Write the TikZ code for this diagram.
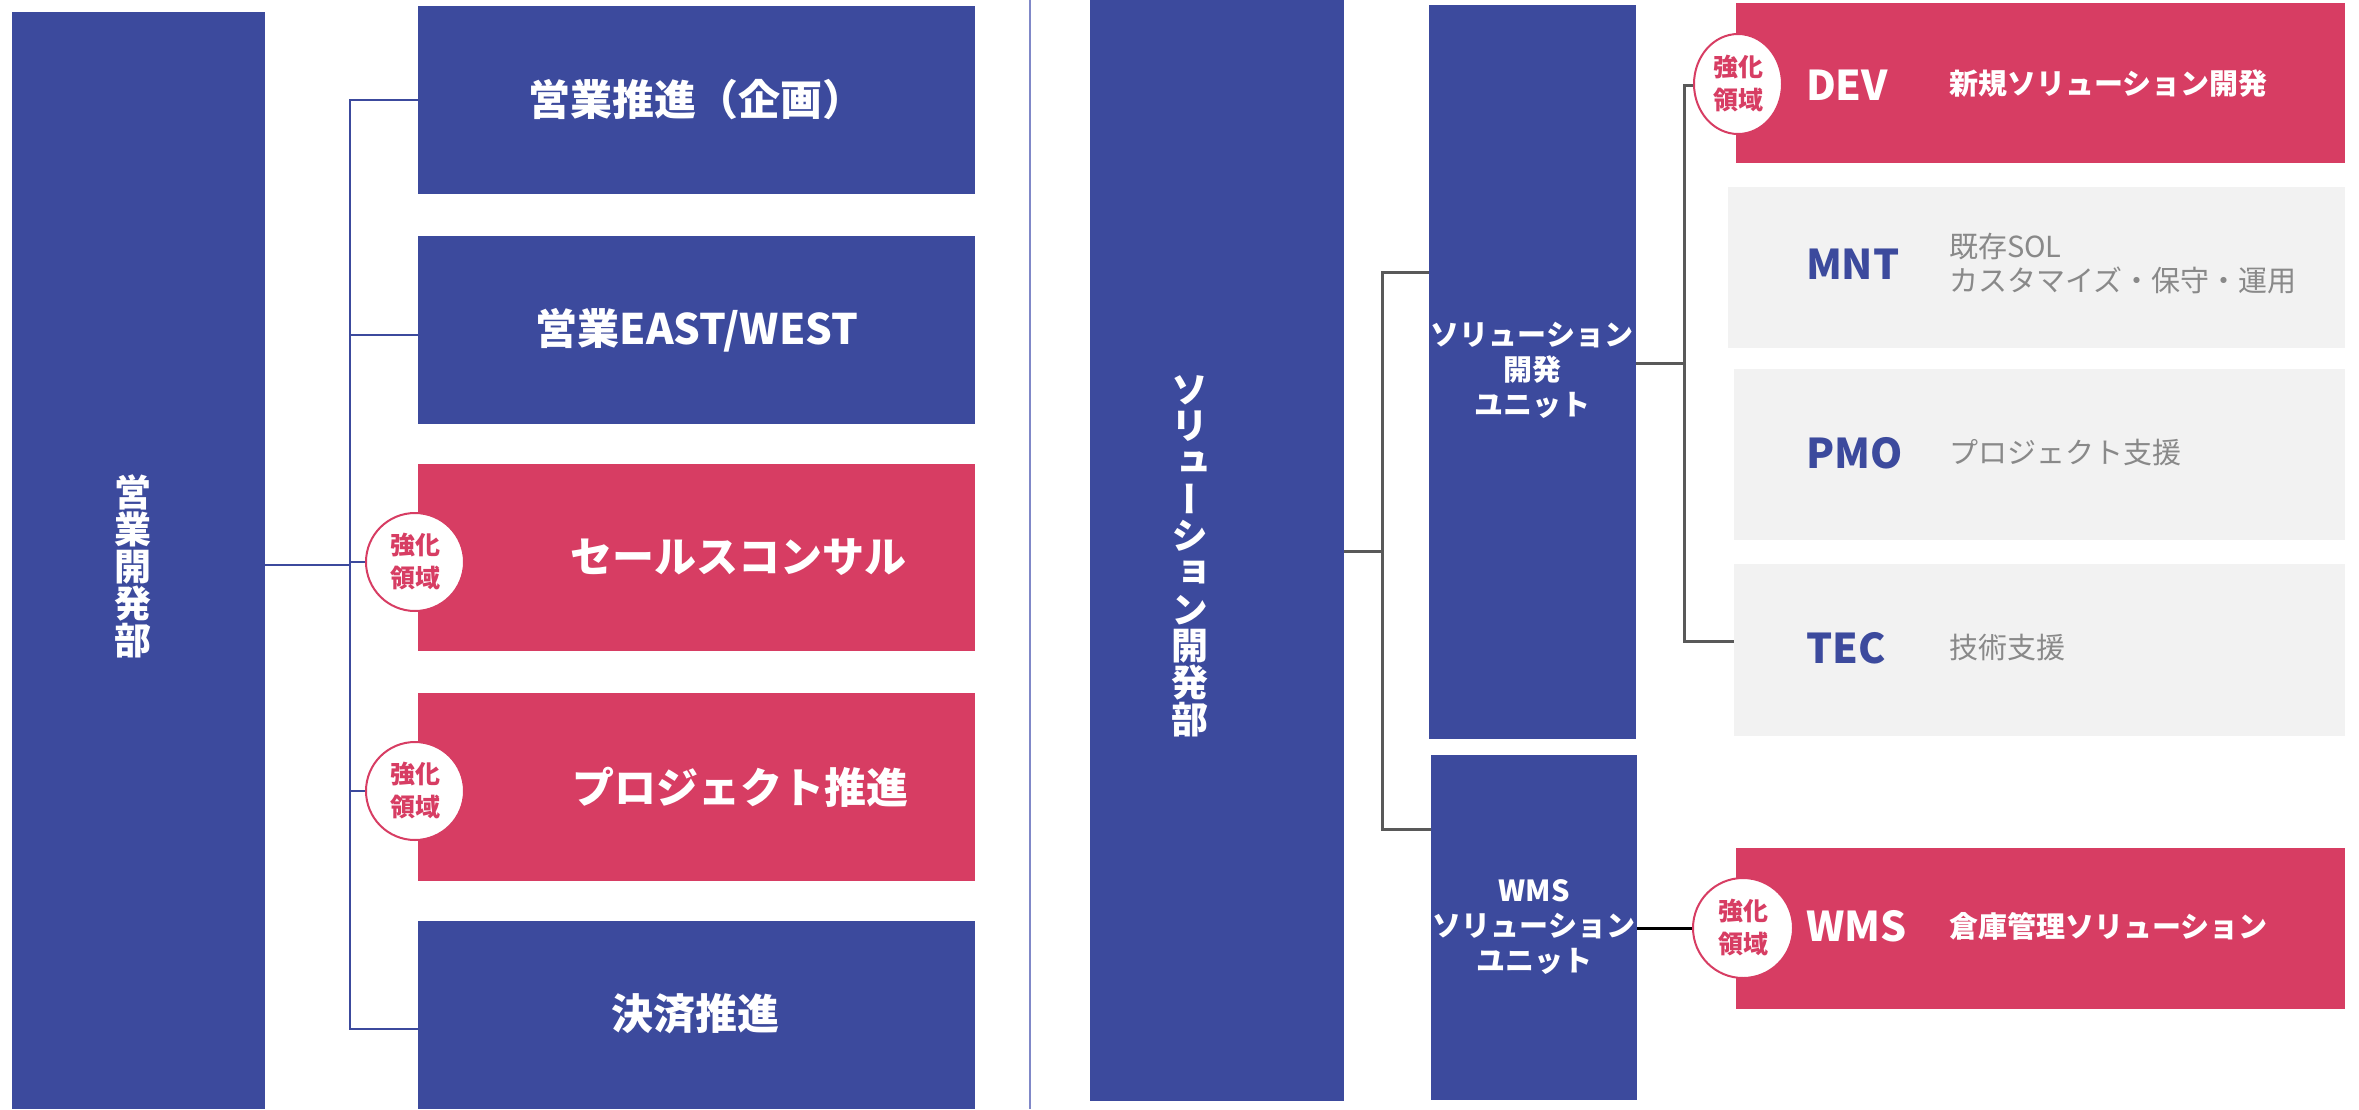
\documentclass[tikz,border=0pt]{standalone}
\usepackage{fontspec}
\usetikzlibrary{shapes.geometric}
\setmainfont{Noto Sans CJK JP}
\newfontfamily\vfont[RawFeature={+vert}]{Noto Sans CJK JP}
\definecolor{cblue}{RGB}{60,74,157}
\definecolor{cred}{RGB}{215,61,99}
\definecolor{cgray}{RGB}{242,242,242}
\definecolor{ctext}{RGB}{137,137,137}
\definecolor{cline}{RGB}{89,89,89}
\definecolor{cdiv}{RGB}{128,136,200}
\begin{document}
\begin{tikzpicture}[x=1pt,y=-1pt,
  every node/.style={inner sep=0pt, outer sep=0pt},
  bluebox/.style={rectangle, fill=cblue, anchor=north west},
  redbox/.style={rectangle, fill=cred, anchor=north west},
  graybox/.style={rectangle, fill=cgray, anchor=north west},
  badge/.style={circle, fill=white, draw=cred, line width=2pt, minimum size=98pt, text=cred, font=\fontsize{25}{33}\selectfont\bfseries, align=center},
  ttl/.style={text=white, font=\fontsize{42}{50}\selectfont\bfseries},
  vtxt/.style={text=white, align=center},
  unit/.style={text=white, align=center, font=\fontsize{29}{35}\selectfont\bfseries},
  code/.style={anchor=west, font=\fontsize{41}{48}\selectfont\bfseries},
  desc/.style={anchor=west, align=left, font=\fontsize{29}{34}\selectfont},
  lconn/.style={draw=cblue, line width=2.5pt},
  rconn/.style={draw=cline, line width=3pt},
]
\useasboundingbox (0,0) rectangle (2359,1109);
% ---------- left department ----------
\node[bluebox, minimum width=253pt, minimum height=1097pt] (eigyo) at (12,12) {};
\node[bluebox, minimum width=557pt, minimum height=188pt] (b1) at (418,6) {};
\node[bluebox, minimum width=557pt, minimum height=188pt] (b2) at (418,236) {};
\node[redbox,  minimum width=557pt, minimum height=187pt] (b3) at (418,464) {};
\node[redbox,  minimum width=557pt, minimum height=188pt] (b4) at (418,693) {};
\node[bluebox, minimum width=557pt, minimum height=188pt] (b5) at (418,921) {};

\node[vtxt, font=\fontsize{37}{37}\selectfont\vfont\bfseries] (t0) at (133,566) {営\\業\\開\\発\\部};
\node[ttl] (t1) at (696,100) {営業推進（企画）};
\node[ttl] (t2) at (697,330) {営業EAST/WEST};
\node[ttl] (t3) at (738,557) {セールスコンサル};
\node[ttl] (t4) at (740,787) {プロジェクト推進};
\node[ttl] (t5) at (695,1014) {決済推進};

\coordinate (jL) at (350,565);
\coordinate (j1) at (350,100);
\coordinate (j2) at (350,335);
\coordinate (j3) at (350,562);
\coordinate (j4) at (350,791);
\coordinate (j5) at (350,1029);
\draw[lconn] (eigyo.east |- jL) -- (jL);
\draw[lconn] (j1 -| b1.west) -- (j1) -- (j5) -- (j5 -| b5.west);
\draw[lconn] (j2) -- (j2 -| b2.west);
\draw[lconn] (j3) -- (j3 -| b3.west);
\draw[lconn] (j4) -- (j4 -| b4.west);

\node[badge] (bg3) at (415,562) {強化\\領域};
\node[badge] (bg4) at (415,791) {強化\\領域};

% ---------- divider ----------
\coordinate (dtop) at (1030,0);
\coordinate (dbot) at (1030,1109);
\draw[cdiv, line width=2pt] (dtop) -- (dbot);

% ---------- right department ----------
\node[bluebox, minimum width=254pt, minimum height=1101pt] (soldev) at (1090,0) {};
\node[bluebox, minimum width=207pt, minimum height=734pt] (u1) at (1429,5) {};
\node[bluebox, minimum width=206pt, minimum height=345pt] (u2) at (1431,755) {};
\node[redbox,  minimum width=609pt, minimum height=160pt] (dev) at (1736,3) {};
\node[graybox, minimum width=617pt, minimum height=161pt] (mnt) at (1728,187) {};
\node[graybox, minimum width=611pt, minimum height=171pt] (pmo) at (1734,369) {};
\node[graybox, minimum width=611pt, minimum height=172pt] (tec) at (1734,564) {};
\node[redbox,  minimum width=609pt, minimum height=161pt] (wms) at (1736,848) {};

\node[vtxt, font=\fontsize{37}{36.7}\selectfont\vfont\bfseries] (ts) at (1190,556) {ソ\\リ\\ュ\\ー\\シ\\ョ\\ン\\開\\発\\部};
\node[unit] (tu1) at (1532,370) {ソリューション\\開発\\ユニット};
\node[unit] (tu2) at (1534,927) {WMS\\ソリューション\\ユニット};

\coordinate (jS) at (1382,551);
\coordinate (jU1) at (1382,272);
\coordinate (jU2) at (1382,829);
\draw[rconn] (soldev.east |- jS) -- (jS);
\draw[rconn] (jU1 -| u1.west) -- (jU1) -- (jU2) -- (jU2 -| u2.west);

\coordinate (jD) at (1684,363);
\coordinate (jDev) at (1684,85);
\coordinate (jTec) at (1684,641);
\draw[rconn] (u1.east |- jD) -- (jD);
\draw[rconn] (jDev -| dev.west) -- (jDev) -- (jTec) -- (jTec -| tec.west);

\coordinate (jW) at (1700,928);
\draw[black, line width=3pt] (u2.east |- jW) -- (jW);

\node[badge, ellipse, minimum width=88pt, minimum height=100pt] (bgdev) at (1738,84) {強化\\領域};
\node[badge, minimum size=100pt] (bgwms) at (1743,928) {強化\\領域};

\node[code, text=white] (cdev) at (1806,85) {DEV};
\node[desc, text=white, font=\fontsize{29}{34}\selectfont\bfseries] (ddev) at (1949,84) {新規ソリューション開発};
\node[code, text=cblue] (cmnt) at (1806,264) {MNT};
\node[desc, text=ctext] (dmnt) at (1949,264) {既存SOL\\カスタマイズ・保守・運用};
\node[code, text=cblue] (cpmo) at (1806,453) {PMO};
\node[desc, text=ctext] (dpmo) at (1949,453) {プロジェクト支援};
\node[code, text=cblue] (ctec) at (1806,648) {TEC};
\node[desc, text=ctext] (dtec) at (1949,648) {技術支援};
\node[code, text=white] (cwms) at (1806,926) {WMS};
\node[desc, text=white, font=\fontsize{29}{34}\selectfont\bfseries] (dwms) at (1949,926) {倉庫管理ソリューション};
\end{tikzpicture}
\end{document}
